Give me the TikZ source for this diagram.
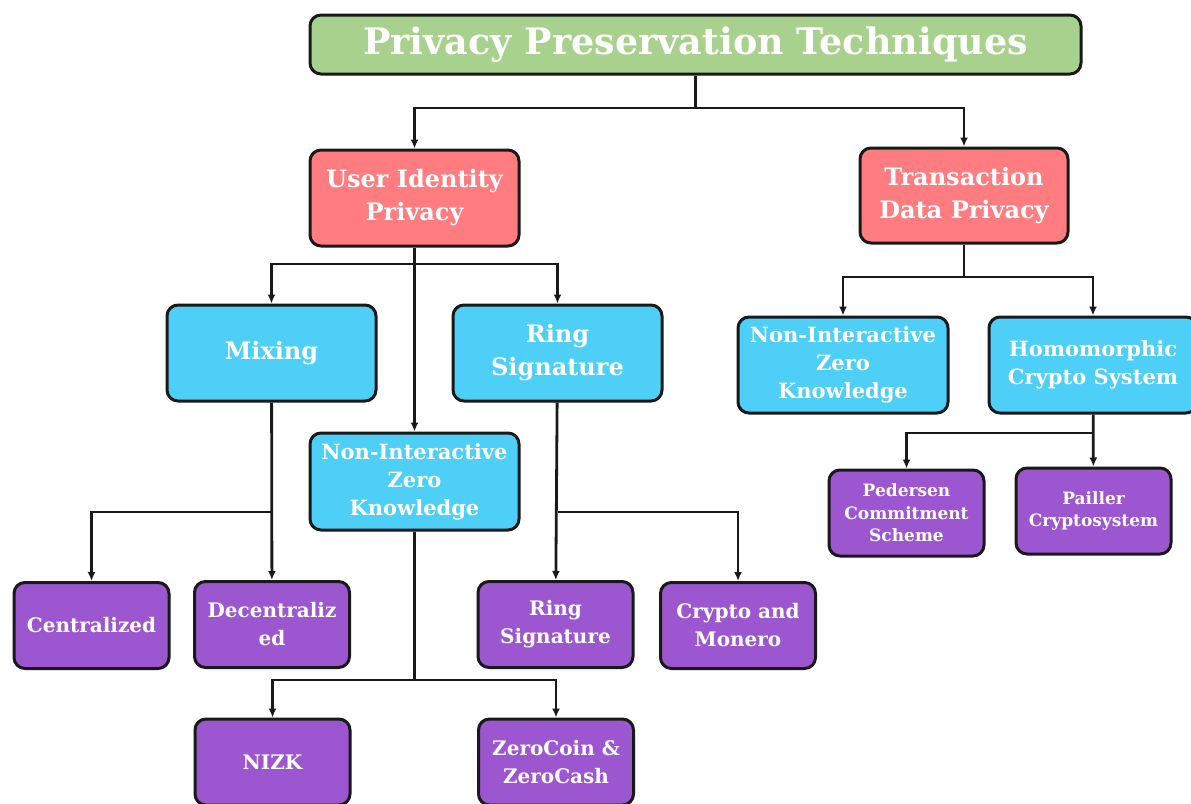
\documentclass[tikz,border=0pt]{standalone}
\usepackage{fontspec}
\setmainfont{DejaVu Serif}
\usetikzlibrary{positioning,arrows.meta,shadows}

\definecolor{titlegreen}{HTML}{A9D18E}
\definecolor{headred}{HTML}{FF7C80}
\definecolor{midcyan}{HTML}{4DCFF7}
\definecolor{leafpurple}{HTML}{9C57D0}

\begin{document}
\begin{tikzpicture}[
  x=1pt, y=-1pt,
  box/.style={
    draw=black!90, line width=3pt, rounded corners=11pt,
    text=white, align=center, inner sep=0pt,
    drop shadow={opacity=0.20, shadow xshift=1pt, shadow yshift=-1pt}
  },
  titlebox/.style={box, fill=titlegreen, minimum width=771pt, minimum height=59pt,
    font=\bfseries\fontsize{36.5}{40}\selectfont},
  head/.style={box, fill=headred, minimum width=209pt, minimum height=96pt,
    font=\bfseries\fontsize{24}{33}\selectfont},
  mid/.style={box, fill=midcyan, minimum width=209pt, minimum height=96pt,
    font=\bfseries\fontsize{24}{33}\selectfont},
  midsmall/.style={mid, font=\bfseries\fontsize{21}{28}\selectfont},
  leaf/.style={box, fill=leafpurple, minimum width=155pt, minimum height=86pt,
    font=\bfseries\fontsize{20}{28}\selectfont},
  leafsmall/.style={leaf, font=\bfseries\fontsize{17}{22.5}\selectfont},
  link/.style={line width=2.8pt, draw=black!90},
  >={Latex[length=9pt,width=8pt]}
]
  \useasboundingbox (0,0) rectangle (1191,803);

  % top level
  \node[titlebox] (title) at (695.5,44.5) {Privacy Preservation Techniques};
  \node[head] (uip) at (414.5,198)   {User Identity\\Privacy};
  \node[head, minimum width=208pt, minimum height=95pt] (tdp) at (964,195.5) {Transaction\\Data Privacy};

  % user identity branch
  \node[mid] (mix)  at (271.5,353) {Mixing};
  \node[mid] (ring) at (557.5,353) {Ring\\Signature};
  \node[midsmall, minimum height=97pt] (nizk) at (414.5,481.5) {Non-Interactive\\Zero\\Knowledge};

  \node[leaf] (cen)   at (91.5,625.5) {Centralized};
  \node[leaf] (dec)   at (272,624.5)  {Decentraliz\\ed};
  \node[leaf] (rsig)  at (555.5,624.5) {Ring\\Signature};
  \node[leaf] (cmon)  at (738,625.5)  {Crypto and\\Monero};
  \node[leaf] (nizkl) at (272.5,762)  {NIZK};
  \node[leaf] (zero)  at (556,762)    {ZeroCoin \&\\ZeroCash};

  % transaction data branch
  \node[midsmall, minimum width=210pt] (nizkr) at (843,365) {Non-Interactive\\Zero\\Knowledge};
  \node[midsmall, minimum width=208pt] (homo)  at (1093,365) {Homomorphic\\Crypto System};
  \node[leafsmall] (ped) at (906.5,513) {Pedersen\\Commitment\\Scheme};
  \node[leafsmall] (pai) at (1093.5,511) {Pailler\\Cryptosystem};

  % junctions
  \coordinate (j0) at (695.5,108);
  \coordinate (j1) at (414.5,264);
  \coordinate (j2) at (964,277);
  \coordinate (j3) at (1093,433);
  \coordinate (j4) at (271.5,512);
  \coordinate (j5) at (557.5,512);
  \coordinate (j6) at (414.5,680);

  \draw[link] (title.south) -- (j0);
  \draw[link,->] (j0) -| (uip);
  \draw[link,->] (j0) -| (tdp);

  \draw[link,->] (uip) -- (nizk);
  \draw[link,->] (j1) -| (mix);
  \draw[link,->] (j1) -| (ring);

  \draw[link] (tdp) -- (j2);
  \draw[link,->] (j2) -| (nizkr);
  \draw[link,->] (j2) -| (homo);

  \draw[link,->] (homo) -- (pai);
  \draw[link,->] (j3) -| (ped);

  \draw[link,->] (mix) -- (dec);
  \draw[link,->] (j4) -| (cen);

  \draw[link,->] (ring) -- (rsig);
  \draw[link,->] (j5) -| (cmon);

  \draw[link] (nizk) -- (j6);
  \draw[link,->] (j6) -| (nizkl);
  \draw[link,->] (j6) -| (zero);
\end{tikzpicture}
\end{document}
